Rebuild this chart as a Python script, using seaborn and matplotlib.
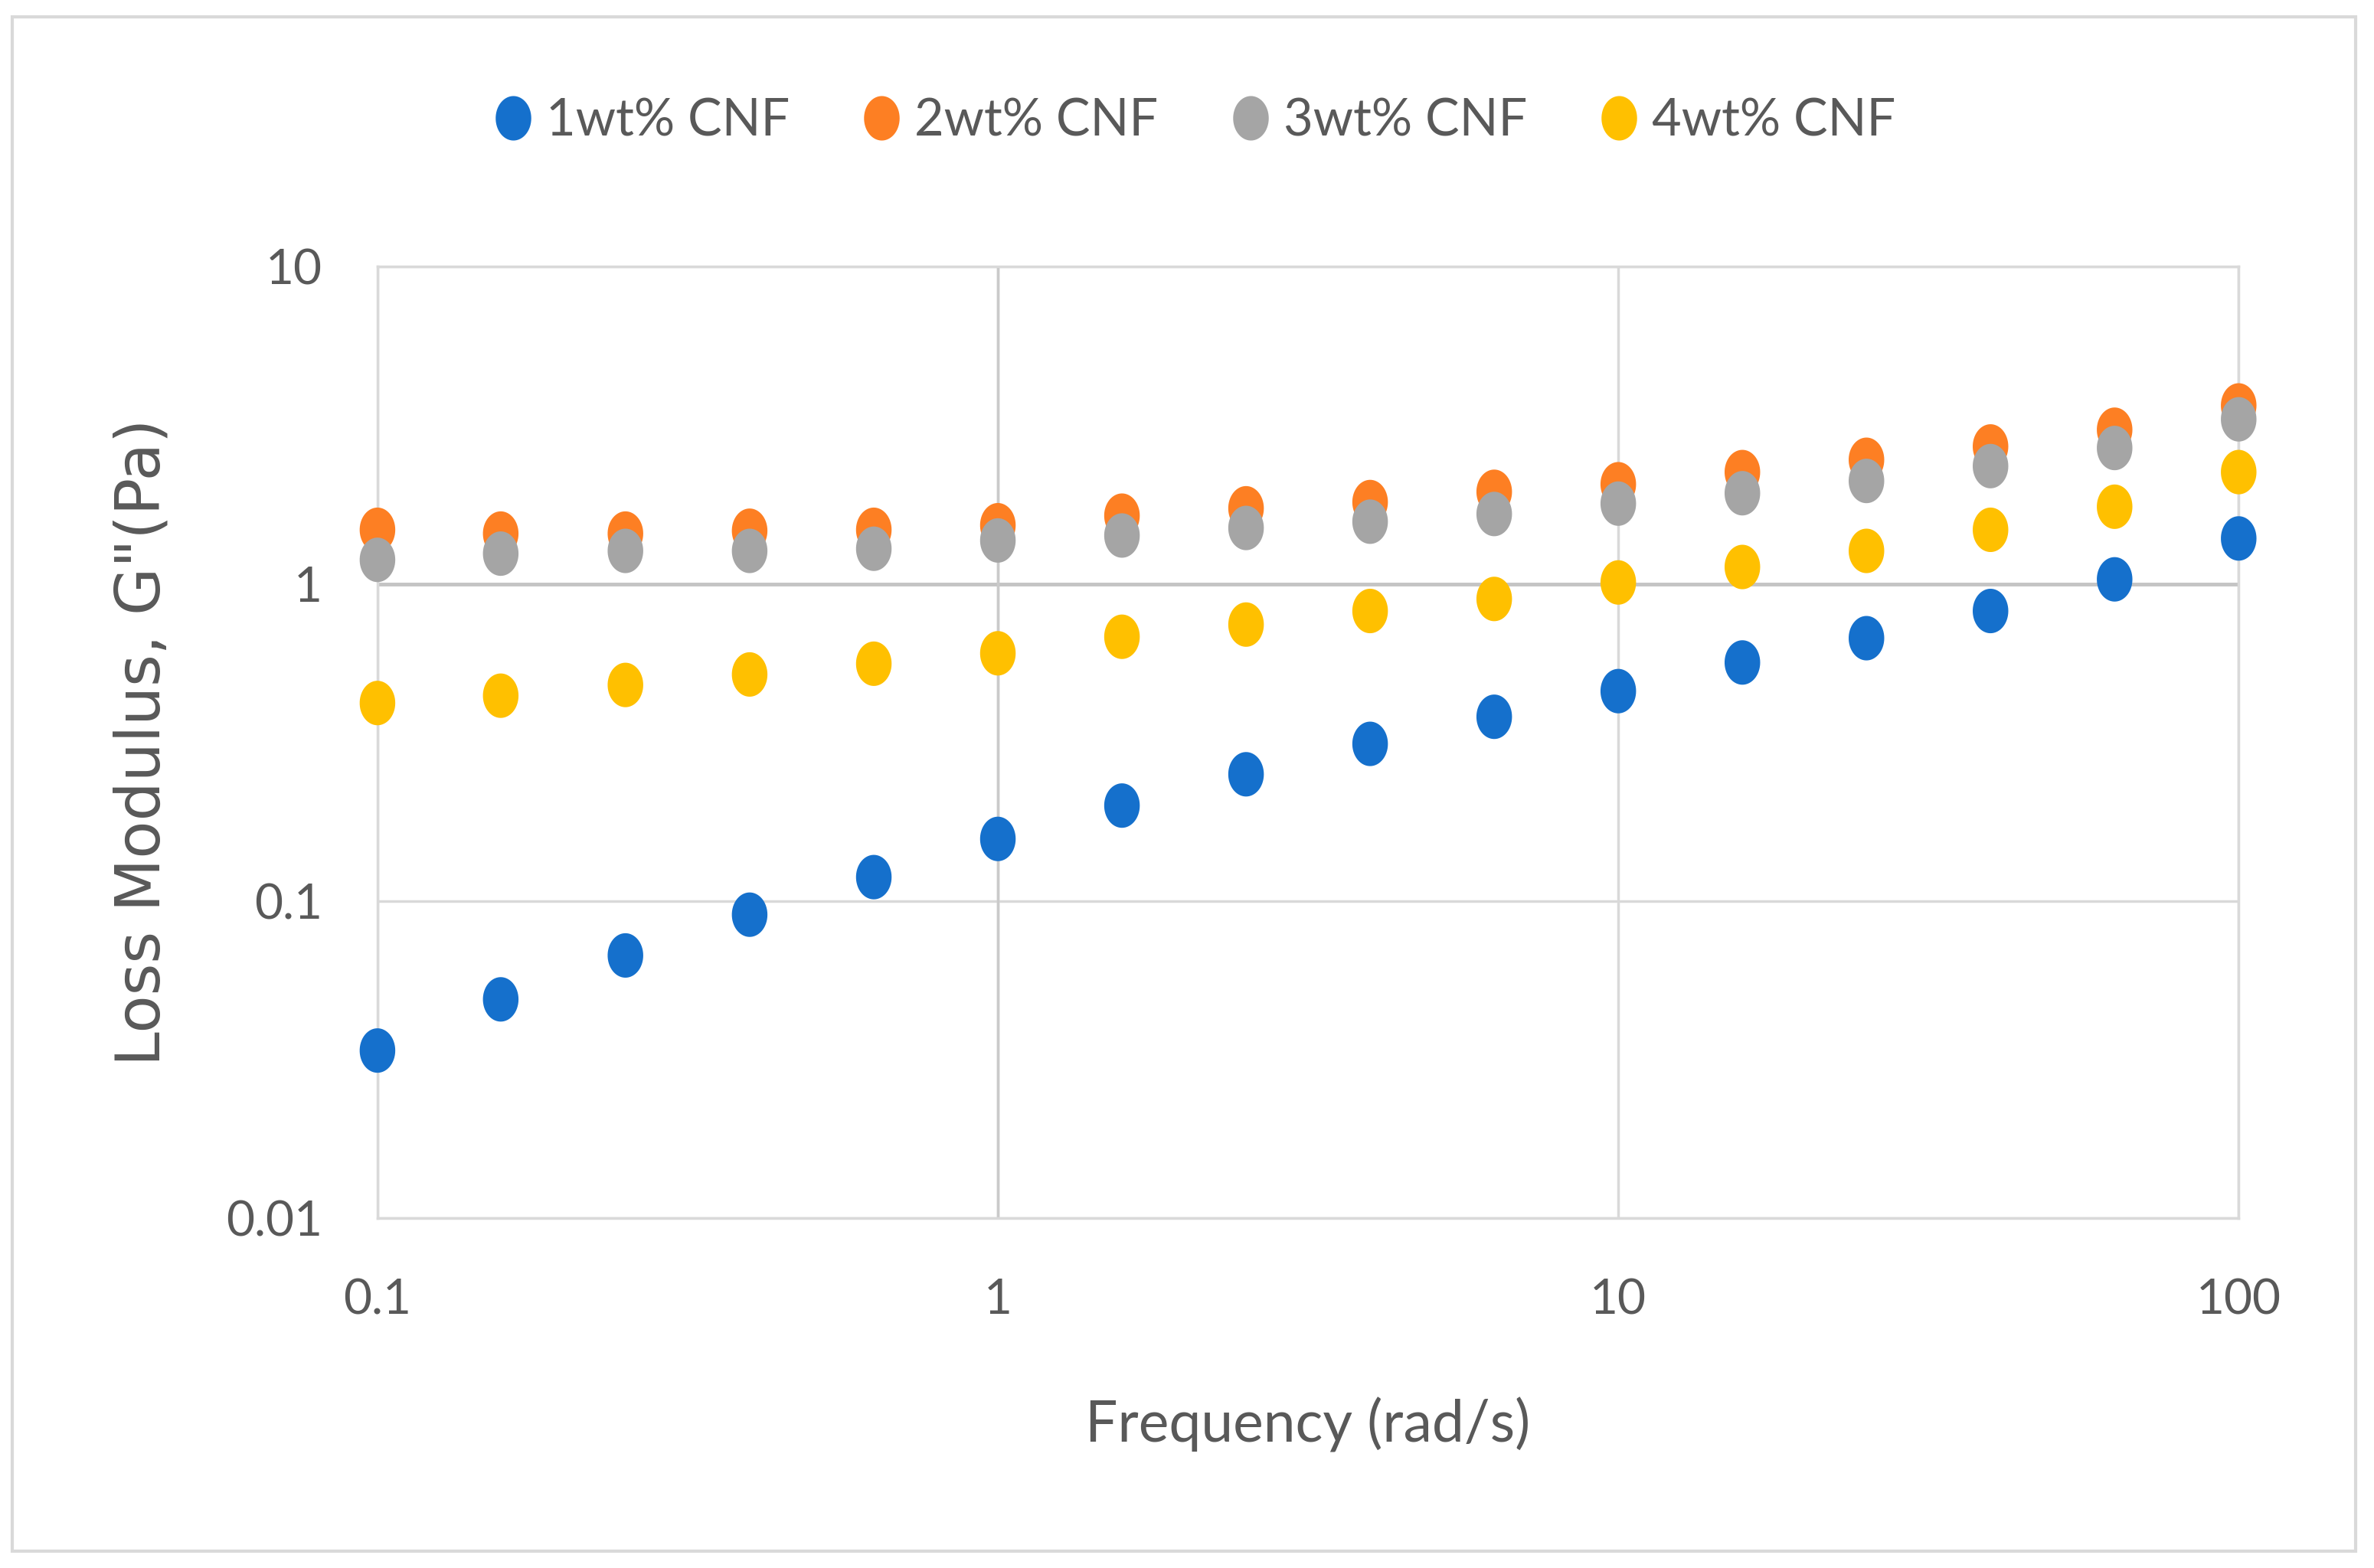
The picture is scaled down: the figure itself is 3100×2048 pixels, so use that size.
#%%
# Loss modulus vs frequency for CNF suspensions

import pandas as pd
import numpy as np
import matplotlib.pyplot as plt
from matplotlib.ticker import FixedLocator, FuncFormatter, NullLocator
from matplotlib.patches import Rectangle
import seaborn as sns

# %%
# Data

freq = [0.1, 0.158, 0.251, 0.398, 0.631, 1, 1.585, 2.512, 3.981, 6.31,
        10, 15.85, 25.12, 39.81, 63.1, 100]

cnf_1 = [0.0338, 0.049, 0.0674, 0.0906, 0.119, 0.157, 0.200, 0.251, 0.313, 0.381,
         0.459, 0.565, 0.674, 0.821, 1.033, 1.39]
cnf_2 = [1.48, 1.44, 1.44, 1.47, 1.48, 1.53, 1.64, 1.73, 1.81, 1.95,
         2.06, 2.25, 2.46, 2.71, 3.06, 3.65]
cnf_3 = [1.19, 1.245, 1.27, 1.27, 1.29, 1.37, 1.42, 1.50, 1.57, 1.66,
         1.79, 1.93, 2.11, 2.35, 2.68, 3.30]
cnf_4 = [0.421, 0.444, 0.480, 0.518, 0.560, 0.604, 0.681, 0.744, 0.821, 0.896,
         1.01, 1.13, 1.27, 1.48, 1.75, 2.25]

labels = ['1wt% CNF', '2wt% CNF', '3wt% CNF', '4wt% CNF']
colors = ['#1570CC', '#FD7F23', '#A5A5A5', '#FFC000']

x_ticks = [0.1, 1, 10, 100]
y_ticks = [0.01, 0.1, 1, 10]

df = pd.concat([pd.DataFrame({'freq': freq, 'G2': vals, 'sample': lab})
                for vals, lab in zip([cnf_1, cnf_2, cnf_3, cnf_4], labels)])

# %%
# Plot

sns.set_theme(style='white')
plt.rcParams['font.family'] = ['Lato', 'DejaVu Sans']
txt = '#595959'
grid_c = '#D9D9D9'

fig = plt.figure(figsize=(31, 20.48), dpi=100)
ax = fig.add_axes([0.159, 0.223, 0.784, 0.607])

# slightly tall ellipse marker like the Excel export
t = np.linspace(0, 2 * np.pi, 60)
ell = np.c_[0.8 * np.cos(t), np.sin(t)]

sns.scatterplot(data=df, x='freq', y='G2', hue='sample', hue_order=labels,
                palette=colors, marker=ell, s=1750, linewidth=0, ax=ax, zorder=3)
for coll in ax.collections:
    coll.set_clip_on(False)

ax.set_xscale('log')
ax.set_yscale('log')
ax.set_xlim(0.1, 100)
ax.set_ylim(0.01, 10)
ax.xaxis.set_major_locator(FixedLocator(x_ticks))
ax.yaxis.set_major_locator(FixedLocator(y_ticks))
ax.xaxis.set_minor_locator(NullLocator())
ax.yaxis.set_minor_locator(NullLocator())
fmt = FuncFormatter(lambda v, p: f'{v:g}')
ax.xaxis.set_major_formatter(fmt)
ax.yaxis.set_major_formatter(fmt)

ax.grid(True, color=grid_c, linewidth=2.5, zorder=0)
# the 1 lines come out a bit darker in the original
ax.axhline(1, color='#C4C4C4', linewidth=3.5, zorder=1)
ax.axvline(1, color='#CACACA', linewidth=2.5, zorder=1)
for s in ax.spines.values():
    s.set_color(grid_c)
    s.set_linewidth(2.5)
ax.tick_params(axis='both', length=0, labelsize=46, labelcolor=txt)
ax.tick_params(axis='x', pad=56)
ax.tick_params(axis='y', pad=52)

ax.set_xlabel('Frequency (rad/s)', fontsize=54, color=txt, labelpad=70)
ax.set_ylabel('Loss Modulus, G"(Pa)', fontsize=58, color=txt, labelpad=50,
              family='DejaVu Sans')

handles, _ = ax.get_legend_handles_labels()
ax.get_legend().remove()
fig.legend(handles, labels, loc='center', bbox_to_anchor=(0.503, 1 - 158 / 2048),
           ncol=4, frameon=False, fontsize=48, labelcolor=txt,
           handlelength=0.8, handletextpad=0.25, columnspacing=1.4, markerscale=1.0)

# outer chart border
fig.patches.append(Rectangle((16 / 3100, 22 / 2048), 3060 / 3100, 2004 / 2048,
                             transform=fig.transFigure, fill=False,
                             edgecolor=grid_c, linewidth=3))

plt.savefig('out.png', dpi=100)
